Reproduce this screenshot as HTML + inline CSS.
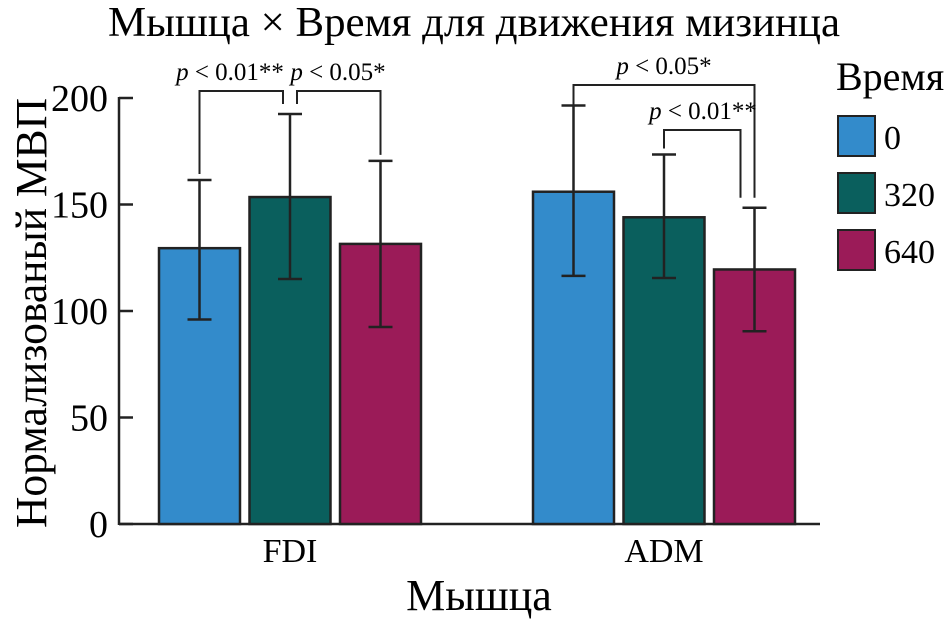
<!DOCTYPE html>
<html><head><meta charset="utf-8"><style>
body{margin:0;background:#fff}
svg{display:block;font-family:"Liberation Serif",serif}
</style></head><body>
<svg id="chart" width="950" height="621">
<text x="474" y="36" font-size="42" text-anchor="middle" textLength="732" lengthAdjust="spacingAndGlyphs">Мышца × Время для движения мизинца</text>
<text transform="translate(46,313) rotate(-90)" font-size="44" text-anchor="middle" textLength="430" lengthAdjust="spacingAndGlyphs">Нормализованый МВП</text>
<text x="479" y="610" font-size="44" text-anchor="middle">Мышца</text>
<g id="axes"></g><g id="bars"></g><g id="ann"></g>
<g>
<text x="836" y="90" font-size="40">Время</text>
<g><rect x="838" y="116" width="37" height="40" fill="#338bcb" stroke="#222" stroke-width="2"/><text x="884" y="149" font-size="34">0</text></g>
<g><rect x="838" y="173" width="37" height="40" fill="#0a5f5d" stroke="#222" stroke-width="2"/><text x="884" y="206" font-size="34">320</text></g>
<g><rect x="838" y="230" width="37" height="40" fill="#9b1b58" stroke="#222" stroke-width="2"/><text x="884" y="263" font-size="34">640</text></g>
</g>
</svg>
<script>
const categories=["FDI","ADM"];
const seriesNames=["0","320","640"];
const means0=[129.5,156];
const means320=[153.5,144];
const means640=[131.5,119.5];
const errUp0=[161.5,196.5];
const errUp320=[192.5,173.5];
const errUp640=[170.5,148.5];
const errLo0=[96,116.5];
const errLo320=[115,115.5];
const errLo640=[92.5,90.5];
const yTicks=[0,50,100,150,200];
const colors=["#338bcb","#0a5f5d","#9b1b58"];
const NS="http://www.w3.org/2000/svg";
const y0=524,yScale=426/200,axX=119;
const y=v=>y0-v*yScale;
const groupStart=[159,533],barW=81,step=90.5;
function mk(tag,attrs,parent){const e=document.createElementNS(NS,tag);for(const k in attrs)e.setAttribute(k,attrs[k]);parent.appendChild(e);return e;}
const axes=document.getElementById('axes');
let l=mk('line',{x1:axX,y1:y(0),x2:820,y2:y(0),stroke:'#222','stroke-width':2.5},axes);


l=mk('line',{x1:axX,y1:y(0)+1,x2:axX,y2:y(200)-1,stroke:'#222','stroke-width':2.5},axes);


yTicks.forEach(t=>{
 mk('line',{x1:axX,y1:y(t),x2:133,y2:y(t),stroke:'#222','stroke-width':2.5},axes);
 const tx=mk('text',{x:108,y:y(t)+13,'font-size':38,'text-anchor':'end'},axes);tx.textContent=t;
 
 
});
const bars=document.getElementById('bars');
const means=[means0,means320,means640],ups=[errUp0,errUp320,errUp640],los=[errLo0,errLo320,errLo640];
const centers=[[],[]];
categories.forEach((c,i)=>{
 const tx=mk('text',{x:groupStart[i]+barW/2+step,y:562,'font-size':34,'text-anchor':'middle'},bars);tx.textContent=c;
 
 
 for(let s=0;s<3;s++){
  const x=groupStart[i]+s*step,cx=x+barW/2;centers[i][s]=cx;
  const r=mk('rect',{x:x,y:y(means[s][i]),width:barW,height:y0-y(means[s][i]),fill:colors[s],stroke:'#222','stroke-width':2.5},bars);
  
  
  const g=mk('g',{stroke:'#222','stroke-width':2.5},bars);
  
  
  mk('line',{x1:cx,y1:y(ups[s][i]),x2:cx,y2:y(los[s][i])},g);
  mk('line',{x1:cx-12,y1:y(ups[s][i]),x2:cx+12,y2:y(ups[s][i])},g);
  mk('line',{x1:cx-12,y1:y(los[s][i]),x2:cx+12,y2:y(los[s][i])},g);
 }
});
const ann=document.getElementById('ann');
function bracket(x1,y1,x2,y2,top,label,lx){
 const p=mk('path',{d:`M${x1},${y1-6}V${top}H${x2}V${y2-6}`,fill:'none',stroke:'#222','stroke-width':2},ann);
 
 
 const t=mk('text',{x:lx,y:top-11,'font-size':25,'text-anchor':'middle'},ann);
 t.innerHTML='<tspan font-style="italic">p</tspan> &lt; '+label;
 
 
}
const c=centers;
bracket(c[0][0],y(errUp0[0]),c[0][1]-7,y(errUp320[0])-4,91,'0.01**',230);
bracket(c[0][1]+7,y(errUp320[0])-4,c[0][2],y(errUp640[0]),91,'0.05*',338);
bracket(c[1][0],y(errUp0[1])+6,c[1][2],y(errUp640[1])-4,85,'0.05*',664);
bracket(c[1][1],y(errUp320[1]),c[1][2]-14,y(errUp640[1])-4,130,'0.01**',703);
</script>
</body></html>
